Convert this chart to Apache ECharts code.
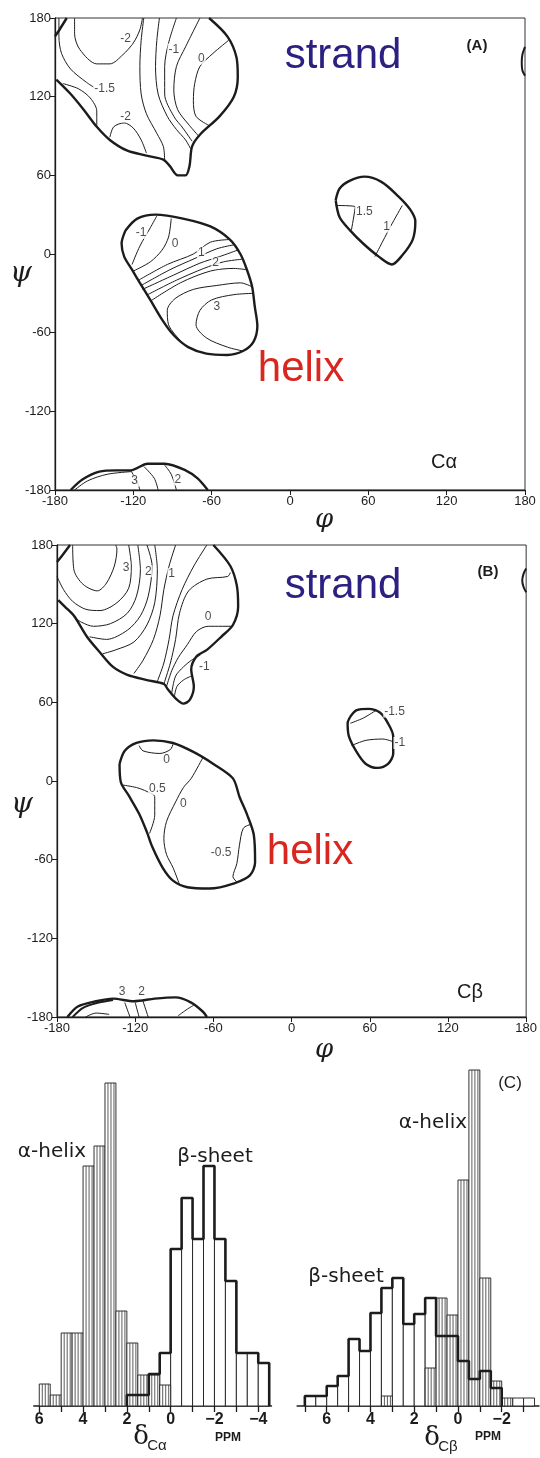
<!DOCTYPE html>
<html>
<head>
<meta charset="utf-8">
<script src="https://cdn.jsdelivr.net/npm/echarts@6/dist/echarts.min.js"></script>
<style>
html, body { margin: 0; padding: 0; background: #fff; }
#chart { width: 540px; height: 1458px; }
</style>
</head>
<body>
<div id="chart"></div>
<script>
// ---- phi / psi ticks ----
var angleMin = -180, angleMax = 180, angleStep = 60;

// ---- (A) C-alpha contours, [phi, psi] ----
var caStrandEdge = [[-62,180],[-48,166],[-41,150],[-40,135],[-43,120],[-54,105],[-69,91],[-75,82],[-77,67],[-80,60],[-86,60],[-92,67],[-97,72],[-110,75],[-125,79],[-138,87],[-148,97],[-158,110],[-168,122],[-179,133]];
var caStrandCorner = [[-180,166],[-176,172],[-171,180]];
var caStrandLines = [
    [[-165,180],[-165,168],[-161,156],[-148,145],[-138,145],[-128,152],[-120,161],[-115,171],[-113,180]],
    [[-177,180],[-177,166],[-175,153],[-168,141],[-156,131],[-150,127]],
    [[-174,130],[-162,126],[-153,119],[-148,109],[-148,98]],
    [[-138,89],[-135,97],[-127,100],[-120,96],[-114,87],[-110,77]],
    [[-112,180],[-114,163],[-115,143],[-114,122],[-110,107],[-102,92],[-97,82],[-96,71]],
    [[-100,180],[-102,163],[-103,143],[-101,122],[-94,105],[-87,95],[-80,87],[-76,80]],
    [[-87,180],[-93,161],[-96,143],[-96,122],[-89,105],[-82,96],[-75,86]],
    [[-69,180],[-80,158],[-87,143],[-89,125],[-86,110],[-77,98],[-70,90]],
    [[-47,163],[-59,153],[-69,143],[-73,130],[-74,117],[-72,105],[-62,98]]
];
var caHelixEdge = [[-126,18],[-117,27],[-103,30],[-82,27],[-61,21],[-46,11],[-38,0],[-33,-12],[-29,-25],[-27,-40],[-25,-55],[-28,-67],[-36,-74],[-48,-77],[-64,-76],[-78,-71],[-89,-62],[-98,-50],[-107,-35],[-115,-22],[-121,-12],[-127,-2],[-129,8]];
var caHelixLines = [
    [[-121,-8],[-115,6],[-107,20],[-102,29]],
    [[-120,-13],[-107,-6],[-98,3],[-93,13],[-91,27]],
    [[-116,-20],[-94,-8],[-74,0],[-61,9],[-47,11]],
    [[-114,-24],[-92,-12],[-72,-3],[-56,4],[-43,7]],
    [[-113,-27],[-89,-16],[-69,-7],[-54,-2],[-40,3]],
    [[-109,-31],[-87,-20],[-66,-11],[-51,-6],[-37,-4]],
    [[-107,-36],[-84,-22],[-61,-13],[-43,-11],[-33,-12]],
    [[-84,-66],[-93,-54],[-94,-43],[-88,-34],[-74,-27],[-56,-24],[-38,-22],[-29,-25]],
    [[-28,-30],[-43,-31],[-60,-35],[-69,-43],[-72,-54],[-64,-64],[-48,-71],[-36,-74]]
];
var caLeftEdge = [[35,41],[38,50],[46,56],[57,59],[70,55],[83,44],[92,34],[96,25],[94,11],[86,-1],[78,-8],[68,-2],[56,8],[46,18],[38,28]];
var caLeftLines = [
    [[35,37],[50,36],[47,18]],
    [[86,37],[77,21],[65,-2]]
];
var caSliver = [[180,158],[178,152],[177.5,146],[178,140],[180,136]];
var caBottomEdge = [[-168,-180],[-159,-172],[-146,-166],[-133,-165],[-122,-165],[-109,-160],[-96,-160],[-80,-165],[-71,-171],[-63,-180]];
var caBottomLines = [
    [[-165,-180],[-155,-173],[-140,-168],[-122,-166]],
    [[-122,-165],[-117,-174],[-115,-180]],
    [[-112,-162],[-104,-171],[-101,-180]],
    [[-96,-161],[-91,-168],[-87,-180]]
];
var caLabels = [[-126,164,'-2'],[-142,126,'-1.5'],[-126,105,'-2'],[-89,156,'-1'],[-68,149,'0'],
    [-114,16,'-1'],[-88,8,'0'],[-68,1,'1'],[-57,-7,'2'],[-56,-40,'3'],
    [57,32,'1.5'],[74,21,'1'],[-119,-173,'3'],[-86,-172,'2']];

// ---- (B) C-beta contours ----
var cbStrandEdge = [[-60,180],[-47,164],[-42,149],[-41,133],[-45,119],[-54,110],[-65,100],[-73,95],[-77,85],[-75,72],[-78,62],[-83,59],[-89,63],[-95,70],[-98,74],[-111,77],[-126,81],[-137,87],[-147,98],[-157,110],[-167,126],[-174,133],[-179,138]];
var cbStrandCorner = [[-180,167],[-176,172],[-170,180]];
var cbStrandLines = [
    [[-168,180],[-167,161],[-160,150],[-149,145],[-142,151],[-136,164],[-134,177],[-135,180]],
    [[-125,180],[-123,164],[-125,147],[-134,136],[-147,130],[-158,131],[-168,137],[-175,146],[-180,156]],
    [[-118,180],[-116,161],[-119,141],[-126,128],[-139,120],[-152,118],[-161,121],[-167,125]],
    [[-111,180],[-107,164],[-110,141],[-116,126],[-126,115],[-142,108],[-155,110]],
    [[-105,180],[-103,161],[-105,136],[-111,119],[-121,106],[-135,100],[-145,97]],
    [[-89,180],[-94,164],[-98,146],[-101,126],[-106,108],[-114,92],[-121,82]],
    [[-65,180],[-75,164],[-84,146],[-91,126],[-94,108],[-98,90],[-103,76]],
    [[-47,159],[-49,156],[-65,154],[-79,145],[-86,128],[-89,108],[-93,90],[-98,74]],
    [[-46,118],[-64,118],[-73,114],[-80,104],[-87,94],[-92,84],[-96,72]],
    [[-70,96],[-77,92],[-83,87],[-89,80],[-92,67]],
    [[-77,80],[-83,77],[-88,72],[-90,64]]
];
var cbHelixEdge = [[-132,13],[-128,23],[-119,29],[-106,31],[-91,29],[-75,22],[-60,13],[-45,2],[-40,-12],[-34,-26],[-29,-41],[-28,-62],[-32,-72],[-44,-78],[-63,-82],[-80,-81],[-91,-76],[-99,-66],[-107,-50],[-111,-39],[-117,-25],[-125,-11],[-131,-1]];
var cbHelixLines = [
    [[-117,27],[-114,23],[-101,21],[-93,24],[-91,28]],
    [[-130,-3],[-119,-5],[-111,-8],[-105,-12],[-105,-26],[-109,-40]],
    [[-68,18],[-77,2],[-83,-5],[-89,-16],[-96,-31],[-98,-44],[-96,-56],[-91,-66],[-86,-79]],
    [[-31,-33],[-37,-36],[-40,-49],[-42,-63],[-45,-73],[-42,-77]]
];
var cbLeftEdge = [[45,49],[50,54],[59,55],[68,52],[74,44],[78,34],[78,21],[74,13],[66,10],[57,13],[50,22],[44,34],[43,44]];
var cbLeftLines = [
    [[45,44],[55,48],[65,54]],
    [[46,27],[57,31],[70,32],[78,30]]
];
var cbSliver = [[180,162],[178,158],[177,153],[178,148],[180,144]];
var cbBottomEdge = [[-172,-180],[-164,-172],[-150,-168],[-137,-166],[-121,-168],[-105,-166],[-89,-165],[-77,-169],[-68,-176],[-65,-180]];
var cbBottomEdge2 = [[-168,-180],[-160,-173],[-148,-169],[-137,-167]];
var cbBottomLines = [
    [[-158,-180],[-150,-177],[-140,-178]],
    [[-128,-169],[-124,-180]],
    [[-120,-169],[-117,-180]],
    [[-114,-168],[-110,-180]],
    [[-87,-179],[-80,-174],[-75,-171]]
];
var cbLabels = [[-127,163,'3'],[-110,160,'2'],[-92,158,'1'],[-64,125,'0'],[-67,87,'-1'],
    [-96,16,'0'],[-103,-6,'0.5'],[-83,-17,'0'],[-54,-55,'-0.5'],
    [79,53,'-1.5'],[83,29,'-1'],[-130,-161,'3'],[-115,-161,'2']];

// ---- (C) histograms: bins of 0.5 ppm, starting at the high-ppm edge ----
var caHelixStart = 6;
var caHelixCounts = [2.2, 1.1, 7.3, 7.3, 24.0, 26.0, 32.3, 9.5, 6.3, 3.1, 3.1, 2.1];
var caSheetStart = 2;
var caSheetCounts = [1.1, 1.1, 3.2, 5.3, 15.7, 20.8, 16.7, 24.0, 16.7, 12.5, 5.3, 5.3, 4.3];
var cbHelixStart = 3.5;
var cbHelixCounts = [1.0, 0, 0, 0, 3.8, 10.8, 9.1, 22.6, 33.6, 12.8, 2.5, 0.8];
var cbSheetStart = 7;
var cbSheetCounts = [1.0, 1.0, 2.0, 3.0, 6.7, 5.5, 9.3, 11.8, 12.8, 8.2, 9.2, 10.8, 7.0, 7.0, 4.5, 2.7, 3.5, 1.8, 0, 0.8, 0.8];
var caPpmTicks = [6, 5, 4, 3, 2, 1, 0, -1, -2, -3, -4];
var caPpmLabels = [6, 4, 2, 0, -2, -4];
var cbPpmTicks = [7, 6, 5, 4, 3, 2, 1, 0, -1, -2, -3];
var cbPpmLabels = [6, 4, 2, 0, -2];

var ink = '#1c1c1c';
var sans = '"Liberation Sans", Arial, sans-serif';
var hatchGap = 3;

function contour(pts, g, w, closed) {
    return {
        type: 'line', xAxisIndex: g, yAxisIndex: g,
        data: closed ? pts.concat([pts[0]]) : pts,
        symbol: 'none', smooth: 0.3, silent: true, z: 3,
        lineStyle: { color: ink, width: w }
    };
}

function labelSeries(list, g) {
    return {
        type: 'scatter', xAxisIndex: g, yAxisIndex: g, symbolSize: 1, silent: true, z: 6,
        itemStyle: { color: 'rgba(0,0,0,0)' },
        data: list.map(function(d) { return { value: [d[0], d[1]], name: d[2] }; }),
        label: {
            show: true, position: 'inside', formatter: '{b}', color: ink,
            fontSize: 12, fontFamily: sans, backgroundColor: '#fff', padding: [0, 1]
        }
    };
}

function ramaX(g) {
    return {
        type: 'value', gridIndex: g, min: angleMin, max: angleMax, interval: angleStep,
        axisLine: { onZero: false, lineStyle: { color: ink, width: 1.3 } },
        axisTick: { length: 5, lineStyle: { color: ink } },
        axisLabel: { color: ink, fontSize: 13, fontFamily: sans, margin: 5 },
        splitLine: { show: false }
    };
}
function ramaY(g) {
    return {
        type: 'value', gridIndex: g, min: angleMin, max: angleMax, interval: angleStep,
        axisLine: { onZero: false, lineStyle: { color: ink, width: 1.3 } },
        axisTick: { length: 5, lineStyle: { color: ink } },
        axisLabel: { color: ink, fontSize: 13, fontFamily: sans, margin: 4 },
        splitLine: { show: false }
    };
}

function ppmLabel(v) { return v < 0 ? '\u2212' + (-v) : String(v); }
function ppmX(g, min, max, ticks, labels) {
    return {
        type: 'value', gridIndex: g, inverse: true, min: min, max: max,
        axisLine: { onZero: false, lineStyle: { color: ink, width: 1.6 } },
        axisTick: { customValues: ticks, length: 6, lineStyle: { color: ink, width: 1.3 } },
        axisLabel: { customValues: labels, formatter: ppmLabel, color: ink, fontSize: 16, fontWeight: 'bold', fontFamily: sans, margin: 6 },
        splitLine: { show: false }
    };
}
function countY(g) {
    return { type: 'value', gridIndex: g, min: 0, max: 34, show: false };
}

function binItems(start, counts) {
    var out = [];
    for (var i = 0; i < counts.length; i++) {
        if (counts[i] > 0) out.push([start - 0.5 * i, start - 0.5 * (i + 1), counts[i]]);
    }
    return out;
}
function stepOutline(start, counts) {
    var pts = [[start, 0]];
    for (var i = 0; i < counts.length; i++) {
        if (!counts[i]) break;
        pts.push([start - 0.5 * i, counts[i]], [start - 0.5 * (i + 1), counts[i]]);
    }
    pts.push([pts[pts.length - 1][0], 0]);
    return pts;
}
function barSeries(g, items, hatched, z) {
    return {
        type: 'custom', xAxisIndex: g, yAxisIndex: g, data: items, silent: true, z: z,
        encode: { x: [0, 1], y: 2 },
        renderItem: function(params, api) {
            var p0 = api.coord([api.value(0), 0]);
            var p1 = api.coord([api.value(1), api.value(2)]);
            var x0 = Math.min(p0[0], p1[0]), w = Math.abs(p1[0] - p0[0]);
            var kids = [{
                type: 'rect',
                shape: { x: x0, y: p1[1], width: w, height: p0[1] - p1[1] },
                style: { fill: '#fff', stroke: ink, lineWidth: 0.9 }
            }];
            if (hatched) {
                for (var x = x0 + hatchGap; x < x0 + w - 1; x += hatchGap) {
                    kids.push({
                        type: 'line',
                        shape: { x1: x, y1: p1[1], x2: x, y2: p0[1] },
                        style: { stroke: '#333', lineWidth: 0.8 }
                    });
                }
            }
            return { type: 'group', children: kids };
        }
    };
}
function outlineSeries(g, pts) {
    return {
        type: 'line', xAxisIndex: g, yAxisIndex: g, data: pts, symbol: 'none', silent: true, z: 5,
        lineStyle: { color: ink, width: 2.6 }
    };
}

var series = [];
// panel A
series.push(contour(caStrandEdge, 0, 2.4, false));
series.push(contour(caStrandCorner, 0, 2.4, false));
caStrandLines.forEach(function(l) { series.push(contour(l, 0, 1, false)); });
series.push(contour(caHelixEdge, 0, 2.4, true));
caHelixLines.forEach(function(l) { series.push(contour(l, 0, 1, false)); });
series.push(contour(caLeftEdge, 0, 2.4, true));
caLeftLines.forEach(function(l) { series.push(contour(l, 0, 1, false)); });
series.push(contour(caSliver, 0, 2, false));
series.push(contour(caBottomEdge, 0, 2.4, false));
caBottomLines.forEach(function(l) { series.push(contour(l, 0, 1, false)); });
series.push(labelSeries(caLabels, 0));
// panel B
series.push(contour(cbStrandEdge, 1, 2.4, false));
series.push(contour(cbStrandCorner, 1, 2.4, false));
cbStrandLines.forEach(function(l) { series.push(contour(l, 1, 1, false)); });
series.push(contour(cbHelixEdge, 1, 2.4, true));
cbHelixLines.forEach(function(l) { series.push(contour(l, 1, 1, false)); });
series.push(contour(cbLeftEdge, 1, 2.4, true));
cbLeftLines.forEach(function(l) { series.push(contour(l, 1, 1, false)); });
series.push(contour(cbSliver, 1, 2, false));
series.push(contour(cbBottomEdge, 1, 2.4, false));
series.push(contour(cbBottomEdge2, 1, 2, false));
cbBottomLines.forEach(function(l) { series.push(contour(l, 1, 1, false)); });
series.push(labelSeries(cbLabels, 1));
// panel C
series.push(barSeries(2, binItems(caSheetStart, caSheetCounts), false, 2));
series.push(barSeries(2, binItems(caHelixStart, caHelixCounts), true, 3));
series.push(outlineSeries(2, stepOutline(caSheetStart, caSheetCounts)));
series.push(barSeries(3, binItems(cbSheetStart, cbSheetCounts), false, 2));
series.push(barSeries(3, binItems(cbHelixStart, cbHelixCounts), true, 3));
series.push(outlineSeries(3, stepOutline(cbSheetStart, cbSheetCounts)));

function txt(x, y, text, size, color, extra) {
    var st = { text: text, fontSize: size, fontFamily: sans, fill: color || ink, align: 'center', verticalAlign: 'middle' };
    for (var k in (extra || {})) st[k] = extra[k];
    return { type: 'text', x: x, y: y, silent: true, z: 10, style: st };
}

var strandBlue = '#2c2181', helixRed = '#d9261f';
var serifItalic = { fontStyle: 'italic', fontFamily: '"DejaVu Serif", serif' };
var wide = { fontFamily: '"DejaVu Sans", sans-serif' };
var graphics = [
    txt(343, 56, 'strand', 42, strandBlue),
    txt(301, 369, 'helix', 42, helixRed),
    txt(477, 46, '(A)', 15, ink, { fontWeight: 'bold' }),
    txt(444, 462, 'C\u03b1', 20, ink),
    txt(21, 274, '\u03c8', 28, ink, serifItalic),
    txt(324, 520, '\u03c6', 26, ink, serifItalic),

    txt(343, 586, 'strand', 42, strandBlue),
    txt(310, 852, 'helix', 42, helixRed),
    txt(488, 572, '(B)', 15, ink, { fontWeight: 'bold' }),
    txt(470, 992, 'C\u03b2', 20, ink),
    txt(22, 805, '\u03c8', 28, ink, serifItalic),
    txt(324, 1050, '\u03c6', 26, ink, serifItalic),

    txt(52, 1152, '\u03b1-helix', 20, ink, wide),
    txt(215, 1157, '\u03b2-sheet', 20, ink, wide),
    txt(433, 1123, '\u03b1-helix', 20, ink, wide),
    txt(346, 1277, '\u03b2-sheet', 20, ink, wide),
    txt(510, 1083, '(C)', 17, ink),
    txt(141, 1437, '\u03b4', 26, ink, { fontFamily: '"DejaVu Serif", serif' }),
    txt(157, 1446, 'C\u03b1', 15, ink),
    txt(228, 1438, 'PPM', 12, ink, { fontWeight: 'bold' }),
    txt(432, 1438, '\u03b4', 26, ink, { fontFamily: '"DejaVu Serif", serif' }),
    txt(448, 1447, 'C\u03b2', 15, ink),
    txt(488, 1437, 'PPM', 12, ink, { fontWeight: 'bold' })
];

var option = {
    backgroundColor: '#fff',
    animation: false,
    grid: [
        { left: 55, top: 18, width: 470, height: 472, show: true, borderColor: '#333', borderWidth: 1 },
        { left: 57, top: 545, width: 470, height: 472, show: true, borderColor: '#333', borderWidth: 1 },
        { left: 33.8, top: 1066, width: 237.6, height: 340 },
        { left: 297.2, top: 1066, width: 241.7, height: 340 }
    ],
    xAxis: [ramaX(0), ramaX(1), ppmX(2, -4.6, 6.25, caPpmTicks, caPpmLabels), ppmX(3, -3.7, 7.35, cbPpmTicks, cbPpmLabels)],
    yAxis: [ramaY(0), ramaY(1), countY(2), countY(3)],
    series: series,
    graphic: graphics
};

var chart = echarts.init(document.getElementById('chart'));
chart.setOption(option);
</script>
</body>
</html>
